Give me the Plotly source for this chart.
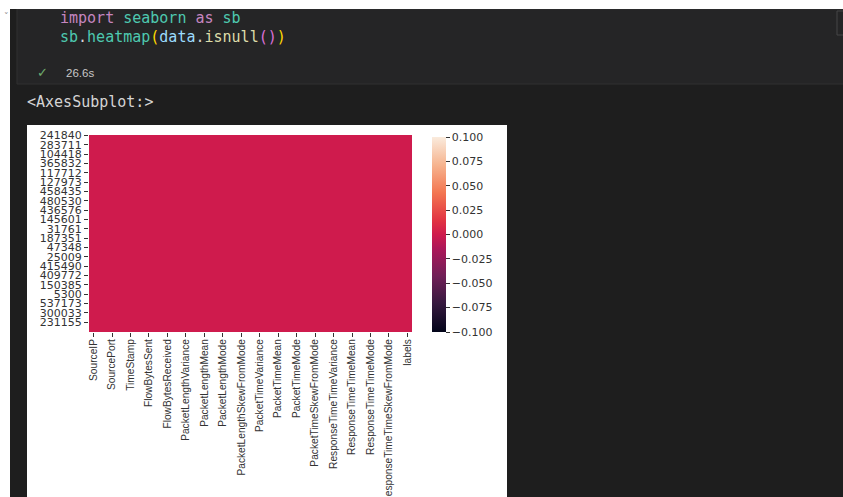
import plotly.graph_objects as go

W, H = 843, 497

# ---- data -------------------------------------------------------------
columns = [
    "SourceIP", "DestinationIP", "SourcePort", "DestinationPort", "TimeStamp",
    "Duration", "FlowBytesSent", "FlowSentRate", "FlowBytesReceived",
    "FlowReceivedRate", "PacketLengthVariance", "PacketLengthStandardDeviation",
    "PacketLengthMean", "PacketLengthMedian", "PacketLengthMode",
    "PacketLengthSkewFromMedian", "PacketLengthSkewFromMode",
    "PacketLengthCoefficientofVariation", "PacketTimeVariance",
    "PacketTimeStandardDeviation", "PacketTimeMean", "PacketTimeMedian",
    "PacketTimeMode", "PacketTimeSkewFromMedian", "PacketTimeSkewFromMode",
    "PacketTimeCoefficientofVariation", "ResponseTimeTimeVariance",
    "ResponseTimeTimeStandardDeviation", "ResponseTimeTimeMean",
    "ResponseTimeTimeMedian", "ResponseTimeTimeMode",
    "ResponseTimeTimeSkewFromMedian", "ResponseTimeTimeSkewFromMode",
    "ResponseTimeTimeCoefficientofVariation", "labels",
]
row_labels = [
    "241840", "283711", "104418", "365832", "117712", "127973", "458435",
    "480530", "436576", "145601", "31761", "187351", "47348", "25009",
    "415490", "409772", "150385", "5300", "537173", "300033", "231155",
]
rows_per_label = 10
n_rows = 211
# data.isnull(): no missing values anywhere -> all False (0)
isnull = [[0] * len(columns) for _ in range(n_rows)]
cbar_vals = [-0.1, -0.075, -0.05, -0.025, 0.0, 0.025, 0.05, 0.075, 0.1]
cbar_text = ["\u22120.100", "\u22120.075", "\u22120.050", "\u22120.025",
             "0.000", "0.025", "0.050", "0.075", "0.100"]

rocket = [
    [0.0, "#03051a"], [0.143, "#35193e"], [0.286, "#701f57"],
    [0.429, "#ad1759"], [0.5, "#cf1b4d"], [0.571, "#e13342"],
    [0.714, "#f37651"], [0.857, "#f6b48f"], [1.0, "#faebdd"],
]


def fx(p):
    return p / W


def fy(p):
    return 1 - p / H


fig = go.Figure()
fig.add_trace(go.Heatmap(
    z=isnull,
    x=columns,
    y=list(range(n_rows)),
    zmin=-0.1, zmax=0.1,
    colorscale=rocket,
    hoverinfo="skip",
    colorbar=dict(
        x=fx(432), xanchor="left", xpad=0,
        y=fy(332), yanchor="bottom", ypad=0,
        len=(332 - 137) / H, lenmode="fraction",
        thickness=14, thicknessmode="pixels",
        outlinewidth=0,
        tickmode="array", tickvals=cbar_vals, ticktext=cbar_text,
        ticks="outside", ticklen=4, tickwidth=1, tickcolor="#333333",
        tickfont=dict(family="DejaVu Sans", size=11, color="#333333"),
    ),
))

tick_cols = columns[::2]
tick_rows = [i * rows_per_label for i in range(len(row_labels))]

fig.update_layout(
    width=W, height=H,
    margin=dict(l=0, r=0, t=0, b=0, autoexpand=False),
    paper_bgcolor="#1e1e1e",
    plot_bgcolor="white",
    showlegend=False,
    xaxis=dict(
        domain=[fx(89), fx(412)],
        type="category", automargin=False,
        tickmode="array", tickvals=tick_cols, ticktext=tick_cols,
        tickangle=-90, ticklabelstandoff=-2,
        ticks="outside", ticklen=4, tickwidth=1, tickcolor="#333333",
        tickfont=dict(family="Liberation Sans", size=10.2, color="#333333"),
        showgrid=False, zeroline=False, showline=False,
    ),
    yaxis=dict(
        domain=[fy(332), fy(135)], automargin=False,
        range=[n_rows - 0.5, -0.5],
        tickmode="array", tickvals=tick_rows, ticktext=row_labels,
        ticks="outside", ticklen=4, tickwidth=1, tickcolor="#333333",
        tickfont=dict(family="DejaVu Sans", size=11, color="#333333"),
        showgrid=False, zeroline=False, showline=False,
    ),
)

shapes = []


def rect(x0, y0, x1, y1, fill, line=None, lw=0):
    shapes.append(dict(
        type="rect", xref="paper", yref="paper",
        x0=fx(x0), x1=fx(x1), y0=fy(y1), y1=fy(y0),
        fillcolor=fill, line=dict(color=line or fill, width=lw),
        layer="below",
    ))


rect(17, 9, W + 2, 84, "#252526", "#303031", 1)   # code cell
rect(0, -2, W + 2, 9, "#ffffff")                  # top white strip
rect(-2, -2, 10, H + 2, "#ffffff")                # left white strip
rect(837, 11, W + 3, 35, "#252526", "#474747", 1)  # right scroll box
rect(27, 125, 507, H + 2, "#ffffff")             # figure canvas
fig.update_layout(shapes=shapes)

ann = []


def text(x, y, s, size, family, color="#cccccc"):
    ann.append(dict(
        x=fx(x), y=fy(y), xref="paper", yref="paper",
        xanchor="left", yanchor="middle", showarrow=False,
        text=s, font=dict(family=family, size=size, color=color),
    ))


def sp(c, s):
    return f"<span style='color:{c}'>{s}</span>"


mono = "DejaVu Sans Mono"
text(58, 18, sp("#c586c0", "import") + " " + sp("#4ec9b0", "seaborn") + " "
     + sp("#c586c0", "as") + " " + sp("#4ec9b0", "sb"), 15, mono)
text(58, 37, sp("#4ec9b0", "sb") + sp("#d4d4d4", ".") + sp("#4ec9b0", "heatmap")
     + sp("#ffd700", "(") + sp("#9cdcfe", "data") + sp("#d4d4d4", ".")
     + sp("#dcdcaa", "isnull") + sp("#da70d6", "()") + sp("#ffd700", ")"),
     15, mono)
text(35, 73, "\u2713", 13, "DejaVu Sans", "#6fae6f")
text(64, 73, "26.6s", 11.5, "Liberation Sans", "#c8c8c8")
text(25, 102, "&lt;AxesSubplot:&gt;", 15, mono, "#d4d4d4")
text(2, 16, "\u02c5", 9, "DejaVu Sans", "#888888")
fig.update_layout(annotations=ann)

fig.write_html("out.html")
